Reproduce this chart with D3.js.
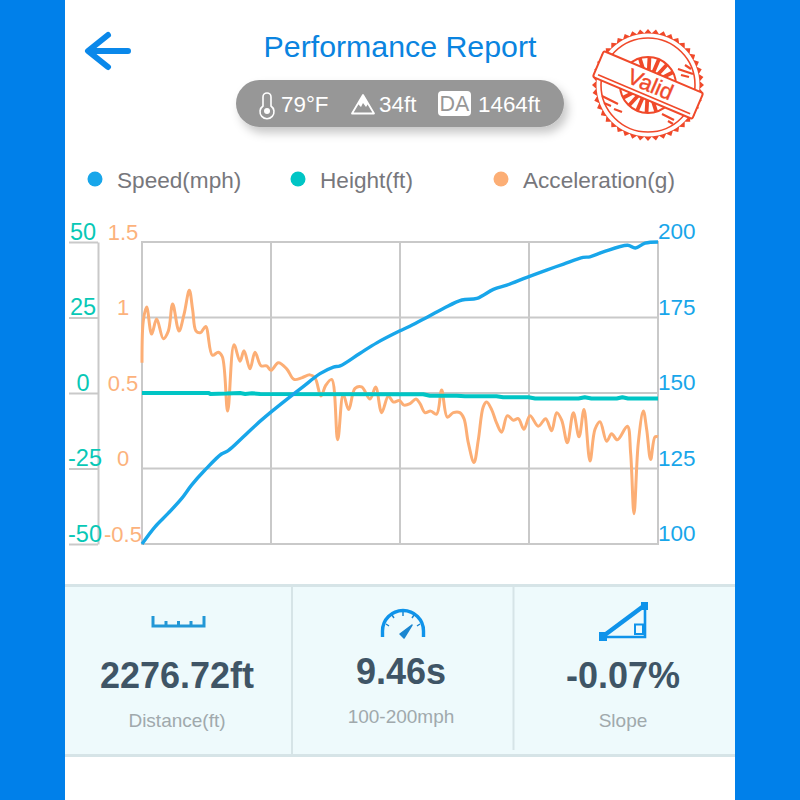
<!DOCTYPE html>
<html>
<head>
<meta charset="utf-8">
<script src="https://cdn.jsdelivr.net/npm/d3@7"></script>
<style>
	html, body { margin: 0; padding: 0; background: #0080ea; }
	svg { display: block; }
	text { font-family: "Liberation Sans", Arial, sans-serif; }
</style>
</head>
<body>
<div id="chart"></div>
<script>
var accel_x = [0,0.26,0.9,1.87,2.84,4.13,5.1,5.94,7.17,8.14,9.17,9.82,10.47,11.37,12.34,13.63,14.79,15.57,16.6,17.83,19,19.77,20.93,21.9,23.06,24.16,25,26.42,28.04,29.46,30.94,32.56,33.53,34.69,35.6,36.76,37.92,39,40.05,41.28,42.57,44.19,45.28,46.45,47.74,48.71,49.87,50.78,51.94,53.1,53.88,54.84,55.94,57.1,58.07,59.17,60.34,61.6,62.4,63.24,64.34,65.18,66.15,66.8,67.76,68.73,69.7,70.8,71.96,72.93,74.03,75.19,76.8,78.23,79.39,80.36,81.33,82.43,83.6,84.7,85.66,86.82,87.79,88.76,90.05,91.02,92.12,94.06,94.7,95.35,96.18,97.16,97.8,98.58,99.42,100];
var accel_g = [0.70,0.98,1.07,0.89,0.99,0.86,0.91,1.09,0.91,1.02,1.18,1.05,0.91,0.90,0.94,0.75,0.77,0.74,0.38,0.82,0.71,0.78,0.66,0.77,0.68,0.68,0.65,0.70,0.66,0.59,0.60,0.62,0.60,0.48,0.55,0.59,0.19,0.49,0.39,0.53,0.54,0.46,0.54,0.37,0.48,0.44,0.45,0.42,0.43,0.46,0.43,0.37,0.38,0.36,0.52,0.34,0.37,0.37,0.33,0.17,0.04,0.19,0.41,0.44,0.39,0.30,0.24,0.35,0.32,0.33,0.26,0.35,0.28,0.33,0.25,0.37,0.32,0.17,0.37,0.21,0.39,0.05,0.26,0.31,0.18,0.23,0.19,0.28,0.10,-0.30,0.17,0.38,0.26,0.06,0.21,0.21];

var speed_x = [0,2.52,5.1,7.7,9.6,12.2,15.4,16.7,19.6,22.2,24.8,28,31.3,34.5,37.1,38.4,42.2,45.5,49.9,51.9,54.5,58.4,62,64.9,68.1,70.7,74.6,78.4,81.7,85.5,86.8,89.4,94.1,95.6,97.5,100];
var speed_mph = [100,105.7,110.2,115.1,119.5,124.5,129.8,130.9,135.4,139.6,143.4,147.8,152.2,156.4,158.6,159,163.1,166.6,170.5,172.1,174.4,178,180.8,181.3,184.3,185.7,188.3,190.7,192.7,194.9,195.1,196.7,198.9,198,199.6,200];

var height_x = [0,13,13.2,16.4,19,20,21.3,22.9,49.9,54.5,55.8,61,62.6,68.7,70,74.9,76.2,84.6,85.8,87.1,92,93.1,94.2,100];
var height_ft = [0,0,-0.3,-0.2,0,-0.3,-0.1,-0.3,-0.4,-0.4,-0.9,-0.9,-1.1,-1.1,-1.4,-1.4,-1.8,-1.8,-1.4,-1.8,-1.8,-1.4,-1.8,-1.8];

var speed_ticks = [100,125,150,175,200];
var height_ticks = [-50,-25,0,25,50];
var accel_ticks = [-0.5,0,0.5,1,1.5];
var x_ticks = [0,25,50,75,100];

var legend_names = ["Speed(mph)","Height(ft)","Acceleration(g)"];
var stat_values = ["2276.72ft","9.46s","-0.07%"];
var stat_names = ["Distance(ft)","100-200mph","Slope"];

var blue = "#18a6ea", teal = "#00c5c5", orange = "#fcae75", grid = "#c9c9c9";

var svg = d3.select("#chart").append("svg")
	.attr("width", 800)
	.attr("height", 800);

var defs = svg.append("defs");
var shadow = defs.append("filter").attr("id", "pillShadow")
	.attr("x", "-10%").attr("y", "-40%").attr("width", "120%").attr("height", "190%");
shadow.append("feDropShadow")
	.attr("dx", 4).attr("dy", 6).attr("stdDeviation", 5)
	.attr("flood-color", "#000").attr("flood-opacity", 0.22);

// page panel
svg.append("rect").attr("width", 800).attr("height", 800).attr("fill", "#0080ea");
svg.append("rect").attr("x", 65).attr("width", 670).attr("height", 800).attr("fill", "#fff");

// header
svg.append("path")
	.attr("d", "M128,51H90M108,35L88,51L108,67")
	.attr("fill", "none").attr("stroke", "#0a88ea")
	.attr("stroke-width", 6).attr("stroke-linecap", "round").attr("stroke-linejoin", "round");

svg.append("text")
	.attr("x", 400).attr("y", 57)
	.attr("text-anchor", "middle")
	.attr("font-size", 30.3)
	.attr("fill", "#0a84e0")
	.text("Performance Report");

// weather pill
var pill = svg.append("g");
pill.append("rect")
	.attr("x", 236).attr("y", 80).attr("width", 328).attr("height", 47).attr("rx", 23.5)
	.attr("fill", "#979797").attr("filter", "url(#pillShadow)");
pill.append("path")
	.attr("d", "M263,97a4,4 0 0 1 8,0V106a7,7 0 1 1 -8,0Z")
	.attr("fill", "none").attr("stroke", "#fff").attr("stroke-width", 1.6);
pill.append("circle").attr("cx", 267).attr("cy", 111).attr("r", 3).attr("fill", "#fff");
pill.append("path")
	.attr("d", "M352,113.500L363,95L374,113.500Z")
	.attr("fill", "none").attr("stroke", "#fff").attr("stroke-width", 1.8).attr("stroke-linejoin", "round");
pill.append("path").attr("d", "M358,104L361,107L363,103L366,107L368,104L363,95Z").attr("fill", "#fff");
pill.append("rect").attr("x", 438).attr("y", 91).attr("width", 33).attr("height", 25).attr("rx", 4).attr("fill", "#fff");
pill.append("text").attr("x", 454.5).attr("y", 111).attr("text-anchor", "middle")
	.attr("font-size", 21.5).attr("fill", "#979797").text("DA");
[["79°F", 281], ["34ft", 379], ["1464ft", 478]].forEach(function(d) {
	pill.append("text").attr("x", d[1]).attr("y", 112)
		.attr("font-size", 22.4).attr("fill", "#fff").text(d[0]);
});

// Valid stamp
var stampRed = "#f0492a";
var stamp = svg.append("g").attr("transform", "translate(648,85)");
var teeth = d3.range(88).map(function(i) {
	var a = i / 88 * 2 * Math.PI, r = i % 2 ? 52 : 56;
	return [r * Math.cos(a), r * Math.sin(a)];
});
stamp.append("path").attr("d", d3.line()(teeth) + "Z").attr("fill", stampRed);
stamp.append("circle").attr("r", 51.5).attr("fill", "#fff");
stamp.append("circle").attr("r", 47).attr("fill", "none").attr("stroke", stampRed).attr("stroke-width", 1.6);
stamp.append("circle").attr("r", 28).attr("fill", "#fff").attr("stroke", stampRed).attr("stroke-width", 2);
var rays = stamp.append("g").attr("transform", "rotate(23)");
d3.range(-2, 3).forEach(function(i) {
	[0, 180].forEach(function(turn) {
		rays.append("line")
			.attr("y1", -14).attr("y2", -28)
			.attr("transform", "rotate(" + (turn + i * 20) + ")")
			.attr("stroke", stampRed).attr("stroke-width", 3.8);
	});
});
// scuffed ink beside the band
stamp.append("path")
	.attr("d", "M30,-16L45,-11M33,-10L41,-8M37,-20L43,-16M-46,11L-30,19M-44,18L-37,21M-34,24L-26,27M14,29L26,35M20,36L25,39")
	.attr("fill", "none").attr("stroke", stampRed).attr("stroke-width", 2.2);
var band = stamp.append("g").attr("transform", "rotate(23)");
band.append("rect").attr("x", -54).attr("y", -14).attr("width", 108).attr("height", 28).attr("rx", 2)
	.attr("fill", "#fff").attr("stroke", stampRed).attr("stroke-width", 2);
band.append("line").attr("x1", -50).attr("x2", 50).attr("y1", 10).attr("y2", 10)
	.attr("stroke", stampRed).attr("stroke-width", 1.6);
band.append("text").attr("x", 2).attr("y", 6).attr("text-anchor", "middle")
	.attr("font-size", 22).attr("fill", stampRed).attr("stroke", stampRed).attr("stroke-width", 0.4).text("Valid");

// legend
var legend_x = [95, 298, 501];
var legend_colors = [blue, teal, orange];
legend_names.forEach(function(name, i) {
	svg.append("circle").attr("cx", legend_x[i]).attr("cy", 179).attr("r", 7.5).attr("fill", legend_colors[i]);
	svg.append("text").attr("x", legend_x[i] + 22).attr("y", 188)
		.attr("font-size", 22.6).attr("fill", "#77777c").text(name);
});

// scales
var plot = { left: 142, right: 658, top: 242, bottom: 544 };
var x = d3.scaleLinear().domain([0, 100]).range([plot.left, plot.right]);
var ySpeed = d3.scaleLinear().domain([100, 200]).range([plot.bottom, plot.top]);
var yHeight = d3.scaleLinear().domain([-50, 50]).range([plot.bottom, plot.top]);
var yAccel = d3.scaleLinear().domain([-0.5, 1.5]).range([plot.bottom, plot.top]);

// grid
var gridG = svg.append("g").attr("stroke", grid).attr("stroke-width", 2);
x_ticks.forEach(function(t) {
	gridG.append("line").attr("x1", x(t)).attr("x2", x(t)).attr("y1", plot.top - 1).attr("y2", plot.bottom + 1);
});
speed_ticks.forEach(function(t) {
	gridG.append("line").attr("x1", plot.left).attr("x2", plot.right).attr("y1", ySpeed(t)).attr("y2", ySpeed(t));
});

// left height axis, line and ticks
var heightAxis = svg.append("g")
	.attr("transform", "translate(98,0)")
	.call(d3.axisLeft(yHeight).tickValues(height_ticks).tickSize(29).tickSizeOuter(0).tickFormat(function(d) { return String(d); }));
heightAxis.select(".domain").attr("stroke", grid).attr("stroke-width", 2);
heightAxis.selectAll(".tick line").attr("stroke", grid).attr("stroke-width", 2);
heightAxis.selectAll(".tick text")
	.attr("x", function(d) { return d < 0 ? -13 : -15; })
	.attr("dy", -3)
	.attr("text-anchor", "middle")
	.attr("font-size", 23.5)
	.attr("font-family", "Liberation Sans")
	.attr("fill", "#08c8b6");

// acceleration labels
var accelAxis = svg.append("g")
	.attr("transform", "translate(123,0)")
	.call(d3.axisLeft(yAccel).tickValues(accel_ticks).tickSize(0).tickFormat(function(d) { return String(d); }));
accelAxis.select(".domain").remove();
accelAxis.selectAll(".tick text")
	.attr("x", 0)
	.attr("dy", -3)
	.attr("text-anchor", "middle")
	.attr("font-size", 22)
	.attr("font-family", "Liberation Sans")
	.attr("fill", "#fcb27c");

// right speed labels
var speedAxis = svg.append("g")
	.attr("transform", "translate(658,0)")
	.call(d3.axisRight(ySpeed).tickValues(speed_ticks).tickSize(0));
speedAxis.select(".domain").remove();
speedAxis.selectAll(".tick text")
	.attr("x", 0)
	.attr("dy", -3.5)
	.attr("text-anchor", "start")
	.attr("font-size", 22.5)
	.attr("font-family", "Liberation Sans")
	.attr("fill", blue);

// series
function drawLine(xs, ys, yScale, color, w, curve) {
	var line = d3.line()
		.x(function(d) { return x(d); })
		.y(function(d, i) { return yScale(ys[i]); })
		.curve(curve);
	svg.append("path")
		.attr("d", line(xs))
		.attr("fill", "none")
		.attr("stroke", color)
		.attr("stroke-width", w)
		.attr("stroke-linejoin", "round");
}
drawLine(accel_x, accel_g, yAccel, orange, 3, d3.curveCatmullRom.alpha(0.5));
drawLine(height_x, height_ft, yHeight, teal, 4, d3.curveLinear);
drawLine(speed_x, speed_mph, ySpeed, blue, 3.4, d3.curveCatmullRom.alpha(0.5));

// stats panel
var panel = svg.append("g");
panel.append("rect").attr("x", 65).attr("y", 585).attr("width", 670).attr("height", 171).attr("fill", "#eefafc");
panel.append("rect").attr("x", 65).attr("y", 584).attr("width", 670).attr("height", 3).attr("fill", "#d6e4e7");
panel.append("rect").attr("x", 65).attr("y", 754).attr("width", 670).attr("height", 3).attr("fill", "#d6e4e7");
panel.append("rect").attr("x", 291).attr("y", 587).attr("width", 2).attr("height", 167).attr("fill", "#d6e4e7");
panel.append("rect").attr("x", 512.5).attr("y", 587).attr("width", 2).attr("height", 163).attr("fill", "#d6e4e7");

var stat_x = [177, 401, 623];
var stat_y = [688, 684, 688];
var label_y = [727, 723, 727];
stat_values.forEach(function(v, i) {
	panel.append("text").attr("x", stat_x[i]).attr("y", stat_y[i]).attr("text-anchor", "middle")
		.attr("font-size", 36).attr("font-weight", "bold").attr("fill", "#3f5566").text(v);
	panel.append("text").attr("x", stat_x[i]).attr("y", label_y[i]).attr("text-anchor", "middle")
		.attr("font-size", 19).attr("fill", "#a0a9ac").text(stat_names[i]);
});

// ruler icon
panel.append("path")
	.attr("d", "M153,616V626H204V616M166,621V626M178.500,621V626M191,621V626")
	.attr("fill", "none").attr("stroke", "#2297d6").attr("stroke-width", 3);

// gauge icon
panel.append("path")
	.attr("d", "M382.500,637V631a20.500,20.500 0 0 1 41,0V637")
	.attr("fill", "none").attr("stroke", "#0f93ea").attr("stroke-width", 3.4);
panel.append("path")
	.attr("d", "M400,634L412,625L404,638Z")
	.attr("fill", "#1b86d0").attr("stroke", "#1b86d0").attr("stroke-width", 1.5).attr("stroke-linejoin", "round");
panel.append("path")
	.attr("d", "M403,612V616M392,615L394,618M414,615L412,618M386,624L389,626M420,624L417,626")
	.attr("stroke", "#1b86d0").attr("stroke-width", 1.5);

// slope icon
panel.append("path")
	.attr("d", "M602,637L645,605")
	.attr("fill", "none").attr("stroke", "#0f93ea").attr("stroke-width", 4.5);
panel.append("path")
	.attr("d", "M602,637H645V605")
	.attr("fill", "none").attr("stroke", "#0f93ea").attr("stroke-width", 2.6);
panel.append("rect").attr("x", 599).attr("y", 632).attr("width", 8).attr("height", 9).attr("fill", "#0f93ea");
panel.append("rect").attr("x", 641).attr("y", 602).attr("width", 7).attr("height", 8).attr("fill", "#0f93ea");
panel.append("rect").attr("x", 635).attr("y", 624.5).attr("width", 8).attr("height", 9.5)
	.attr("fill", "none").attr("stroke", "#0f93ea").attr("stroke-width", 2);
</script>
</body>
</html>
